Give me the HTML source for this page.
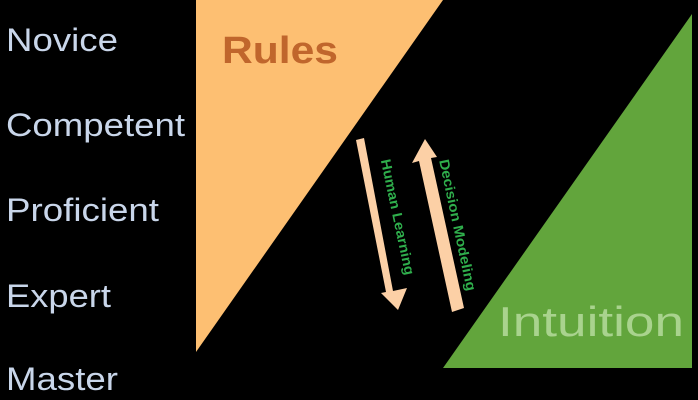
<!DOCTYPE html>
<html><head><style>html,body{margin:0;padding:0;background:#000;width:698px;height:400px;overflow:hidden}</style></head>
<body>
<svg width="698" height="400" viewBox="0 0 698 400" xmlns="http://www.w3.org/2000/svg">
<rect width="698" height="400" fill="#000"/>
<polygon points="196,0 443,0 196,352" fill="#fdbf72"/>
<polygon points="443,368 692,14 692,368" fill="#62a53c"/>
<g font-family="Liberation Sans, sans-serif" font-size="32" fill="#c9d6ea">
<text x="6" y="51" textLength="112" lengthAdjust="spacingAndGlyphs">Novice</text>
<text x="6" y="136" textLength="179" lengthAdjust="spacingAndGlyphs">Competent</text>
<text x="6" y="221" textLength="153" lengthAdjust="spacingAndGlyphs">Proficient</text>
<text x="6" y="307" textLength="105" lengthAdjust="spacingAndGlyphs">Expert</text>
<text x="6" y="390" textLength="112" lengthAdjust="spacingAndGlyphs">Master</text>
</g>
<text x="222" y="63" font-family="Liberation Sans, sans-serif" font-weight="bold" font-size="38" fill="#c0662c" textLength="116" lengthAdjust="spacingAndGlyphs">Rules</text>
<text x="498" y="336" font-family="Liberation Sans, sans-serif" font-size="42" fill="#a9d38e" textLength="186" lengthAdjust="spacingAndGlyphs">Intuition</text>
<polygon points="356,140 364,138 393,291 407,288 398,310 381,293 386,292" fill="#fcd0a6"/>
<polygon points="425,139 437,157 431,158 464,308 452,312 419,161 412,163" fill="#fcd0a6"/>
<g font-family="Liberation Sans, sans-serif" font-weight="bold" font-size="14" fill="#2fae4c">
<text transform="translate(393,218) rotate(78)" text-anchor="middle" textLength="118" lengthAdjust="spacingAndGlyphs">Human Learning</text>
<text transform="translate(453,226) rotate(78)" text-anchor="middle" textLength="134" lengthAdjust="spacingAndGlyphs">Decision Modeling</text>
</g>
</svg>
</body></html>
